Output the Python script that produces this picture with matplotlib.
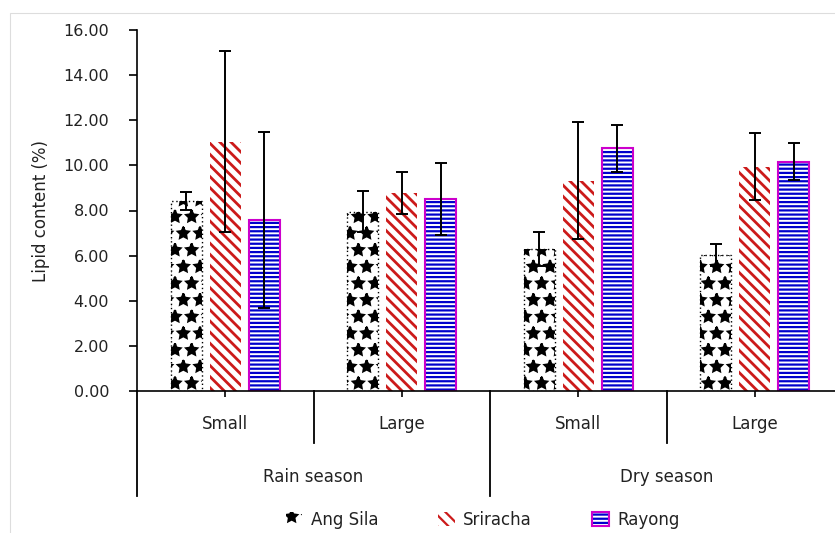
import numpy as np
import matplotlib
matplotlib.use("Agg")
import matplotlib.pyplot as plt
from matplotlib.patches import Rectangle, Patch
from matplotlib.transforms import blended_transform_factory

# Data
groups = ["Small", "Large", "Small", "Large"]
seasons = ["Rain season", "Dry season"]
sites = ["Ang Sila", "Sriracha", "Rayong"]

ang_sila = [8.42, 7.95, 6.30, 6.03]
ang_sila_err = [0.40, 0.92, 0.75, 0.50]
sriracha = [11.05, 8.78, 9.32, 9.95]
sriracha_err = [4.00, 0.93, 2.60, 1.50]
rayong = [7.58, 8.52, 10.75, 10.17]
rayong_err = [3.90, 1.60, 1.05, 0.80]

yticks = np.arange(0, 16.01, 2)

plt.rcParams['font.family'] = 'DejaVu Sans'
text_color = '#222222'

fig = plt.figure(figsize=(8.35, 5.33), dpi=100)
ax = fig.add_axes([137 / 835, 142 / 533, 706 / 835, 361 / 533])

x = np.arange(len(groups)) + 0.5
w = 0.176
off = 0.221

red = '#cc1a1a'
blue = '#0000cc'
magenta = '#cc00cc'

hatch_a, lw_a = '*', 1.6
hatch_s, lw_s = '\\\\\\', 2.0
hatch_r, lw_r = '----', 1.6

# Ang Sila: black star/dot texture
plt.rcParams['hatch.linewidth'] = lw_a
ax.bar(x - off, ang_sila, w, color='white', edgecolor='black', hatch=hatch_a, linewidth=0)
ax.bar(x - off, ang_sila, w, fill=False, edgecolor='black', linewidth=1.0, linestyle=(0, (1, 2)))

# Sriracha: red diagonal stripes
plt.rcParams['hatch.linewidth'] = lw_s
ax.bar(x, sriracha, w, color='white', edgecolor=red, hatch=hatch_s, linewidth=0)

# Rayong: blue horizontal stripes with magenta border
plt.rcParams['hatch.linewidth'] = lw_r
ax.bar(x + off, rayong, w, color='white', edgecolor=blue, hatch=hatch_r, linewidth=0)
ax.bar(x + off, rayong, w, fill=False, edgecolor=magenta, linewidth=1.5)

ekw = dict(fmt='none', ecolor='black', elinewidth=1.4, capsize=4, capthick=1.4, zorder=5)
ax.errorbar(x - off, ang_sila, yerr=ang_sila_err, **ekw)
ax.errorbar(x, sriracha, yerr=sriracha_err, **ekw)
ax.errorbar(x + off, rayong, yerr=rayong_err, **ekw)

ax.set_xlim(0, 4)
ax.set_ylim(0, 16)
ax.set_yticks(yticks)
ax.set_yticklabels([f"{v:.2f}" for v in yticks])
ax.set_xticks(x)
ax.set_xticklabels([])
ax.tick_params(axis='y', length=6, width=1.2, pad=14, labelsize=11.5, labelcolor=text_color)
ax.tick_params(axis='x', length=4, width=1.2)

for s in ['top', 'right']:
    ax.spines[s].set_visible(False)
ax.spines['left'].set_linewidth(1.2)
ax.spines['bottom'].set_linewidth(1.2)

ax.set_ylabel("Lipid content (%)", fontsize=12, color=text_color, labelpad=10)

# Category axis: group labels, separators and season labels
tr = blended_transform_factory(ax.transData, ax.transAxes)
for xi, g in zip(x, groups):
    ax.text(xi, -0.091, g, transform=tr, ha='center', va='center', fontsize=12, color=text_color)
for xs in [1, 3]:
    ax.plot([xs, xs], [0, -0.145], transform=tr, color='black', lw=1.3, clip_on=False)
for xs in [0, 2, 4]:
    ax.plot([xs, xs], [0, -0.29], transform=tr, color='black', lw=1.3, clip_on=False)
for i, sname in enumerate(seasons):
    ax.text(2 * i + 1, -0.238, sname, transform=tr, ha='center', va='center',
            fontsize=12, color=text_color)

# Legend
plt.rcParams['hatch.linewidth'] = lw_a
h1 = Patch(facecolor='white', edgecolor='black', hatch=hatch_a, linewidth=0)
plt.rcParams['hatch.linewidth'] = lw_s
h2 = Patch(facecolor='white', edgecolor=red, hatch=hatch_s, linewidth=0)
plt.rcParams['hatch.linewidth'] = lw_r
h3 = Patch(facecolor='white', edgecolor=blue, hatch=hatch_r, linewidth=0)
h3b = Patch(fill=False, edgecolor=magenta, linewidth=1.5)
leg = fig.legend([h1, h2, (h3, h3b)], sites, loc='center', bbox_to_anchor=(0.578, 0.025),
                 ncol=3, frameon=False, fontsize=12, handlelength=1.0, handleheight=1.0,
                 columnspacing=3.6, handletextpad=0.5)
for t in leg.get_texts():
    t.set_color(text_color)

# light chart-area frame
fig.patches.append(Rectangle((10 / 835, -0.5), 2, 1.5 - 13 / 533, transform=fig.transFigure,
                             fill=False, edgecolor='#dddddd', linewidth=0.8))

fig.savefig("out.png", dpi=100)
